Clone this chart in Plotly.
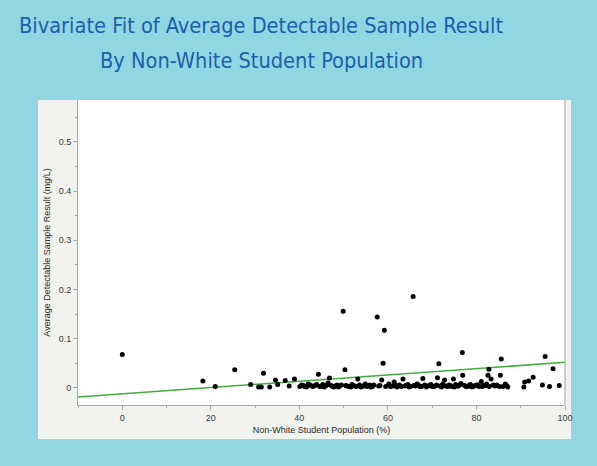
import plotly.graph_objects as go

# ---- data ----
pop_pct = [0, 18.2, 21.0, 25.4, 29.0, 30.8, 31.4, 31.9, 33.3, 34.6, 35.1, 36.8, 37.7, 38.9,
           40.5, 41.2, 42.0, 42.8, 43.5, 44.3, 44.6, 45.3, 45.9, 46.5, 46.8, 47.2, 47.8, 48.5,
           49.1, 49.9, 50.3, 50.5, 51.2, 51.9, 52.5, 53.2, 53.6, 54.2, 54.9, 55.5, 56.2, 56.8,
           57.6, 57.9, 58.6, 58.9, 59.2, 59.5, 60.2, 61.0, 61.4, 62.0, 62.6, 63.4, 63.8, 64.5,
           65.1, 65.7, 65.9, 66.6, 67.2, 67.9, 68.3, 69.0, 69.7, 70.3, 71.0, 71.2, 71.5, 71.8,
           72.4, 72.8, 73.1, 73.8, 74.4, 74.8, 75.3, 75.9, 76.5, 76.8, 76.9, 77.3, 78.0, 78.6,
           79.3, 80.0, 80.6, 81.1, 81.6, 82.3, 82.6, 82.8, 82.9, 83.3, 83.8, 84.6, 85.2, 85.4,
           85.6, 86.5, 87.1, 90.7, 90.9, 91.8, 92.8, 94.9, 95.5, 96.5, 97.3, 98.7,
           40.1, 40.9, 41.6, 42.4, 43.1, 43.9, 45.0, 45.6, 46.2, 47.5, 48.1, 48.8, 49.5, 50.8,
           51.6, 52.2, 52.9, 53.9, 54.6, 55.2, 55.9, 56.5, 58.2, 60.6, 61.7, 62.3, 63.0, 64.1,
           64.8, 66.2, 66.9, 67.6, 68.7, 69.4, 70.0, 70.7, 72.1, 73.5, 74.1, 75.0, 75.6, 76.2,
           77.6, 78.3, 79.0, 79.6, 80.3, 81.3, 82.0, 84.2, 86.0, 86.8]
avg_result = [0.068, 0.014, 0.003, 0.037, 0.007, 0.002, 0.002, 0.030, 0.002, 0.016, 0.007, 0.015, 0.004, 0.018,
              0.006, 0.003, 0.008, 0.004, 0.005, 0.028, 0.003, 0.007, 0.004, 0.010, 0.020, 0.005, 0.002, 0.006,
              0.004, 0.156, 0.037, 0.005, 0.003, 0.007, 0.004, 0.018, 0.006, 0.003, 0.008, 0.004, 0.002, 0.006,
              0.144, 0.004, 0.016, 0.050, 0.117, 0.003, 0.008, 0.004, 0.012, 0.002, 0.006, 0.018, 0.004, 0.007,
              0.003, 0.186, 0.005, 0.008, 0.003, 0.019, 0.006, 0.004, 0.007, 0.003, 0.006, 0.021, 0.049, 0.004,
              0.008, 0.016, 0.004, 0.006, 0.003, 0.018, 0.007, 0.004, 0.009, 0.072, 0.026, 0.005, 0.003, 0.007,
              0.004, 0.006, 0.003, 0.013, 0.005, 0.008, 0.026, 0.038, 0.003, 0.018, 0.006, 0.006, 0.003, 0.026,
              0.059, 0.008, 0.002, 0.002, 0.012, 0.014, 0.022, 0.006, 0.064, 0.003, 0.039, 0.005,
              0.003, 0.005, 0.002, 0.006, 0.003, 0.007, 0.004, 0.002, 0.006, 0.003, 0.004, 0.002, 0.006, 0.004,
              0.002, 0.005, 0.003, 0.002, 0.005, 0.003, 0.006, 0.003, 0.005, 0.003, 0.006, 0.004, 0.003, 0.005,
              0.002, 0.004, 0.006, 0.003, 0.002, 0.005, 0.003, 0.004, 0.002, 0.003, 0.005, 0.002, 0.004, 0.006,
              0.003, 0.005, 0.002, 0.004, 0.006, 0.003, 0.005, 0.004, 0.003, 0.005]

fit_intercept = -0.0119
fit_slope = 0.000641
fit_x = [-10, 100]

x_ticks = [0, 20, 40, 60, 80, 100]
x_ticktext = ["0", "20", "40", "60", "80", "100"]
y_ticks = [0, 0.1, 0.2, 0.3, 0.4, 0.5]
y_ticktext = ["0", "0.1", "0.2", "0.3", "0.4", "0.5"]

title_line1 = "Bivariate Fit of Average Detectable Sample Result"
title_line2 = "By Non-White Student Population"
x_title = "Non-White Student Population (%)"
y_title = "Average Detectable Sample Result (mg/L)"

# ---- figure ----
W, H = 597, 466
L, R, T, B = 78, 565, 100, 405

def px_x(p):
    return (p - L) / (R - L)

def px_y(p):
    return (B - p) / (B - T)

fit_y = [fit_intercept + fit_slope * v for v in fit_x]

fig = go.Figure()
fig.add_trace(go.Scatter(
    x=fit_x, y=fit_y, mode="lines",
    line=dict(color="#3fae3f", width=1.6), hoverinfo="skip", showlegend=False))
fig.add_trace(go.Scatter(
    x=pop_pct, y=avg_result, mode="markers",
    marker=dict(color="black", size=5, line=dict(width=0)), showlegend=False))

bg_blue = "#93d6e3"
panel = "#f2f2ee"
axis_col = "#a8a8a8"
tick_font = dict(family="Liberation Sans, Arial, sans-serif", size=9, color="#3a3a3a")
title_font = dict(family="Liberation Sans Narrow, DejaVu Sans Condensed, Arial Narrow, sans-serif",
                  size=21.6, color="#1a5fab")

fig.update_layout(
    width=W, height=H,
    margin=dict(l=L, r=W - R, t=T, b=H - B),
    paper_bgcolor=bg_blue,
    plot_bgcolor="white",
    shapes=[
        dict(type="rect", xref="paper", yref="paper", layer="below",
             x0=px_x(38), x1=px_x(571), y0=px_y(439), y1=px_y(100),
             fillcolor=panel, line=dict(width=0)),
        dict(type="rect", xref="paper", yref="paper", layer="below",
             x0=0, x1=1, y0=0, y1=1, fillcolor="white", line=dict(width=0)),
        dict(type="line", xref="paper", yref="paper",
             x0=1, x1=1, y0=0, y1=1, line=dict(color="#b0b0b0", width=1.2)),
    ],
    xaxis=dict(
        range=[-10, 100], tickvals=x_ticks, ticktext=x_ticktext,
        showgrid=False, zeroline=False, showline=True, linecolor=axis_col, linewidth=1,
        ticks="outside", ticklen=4, tickcolor=axis_col, tickfont=tick_font,
        minor=dict(dtick=10, tick0=0, ticks="outside", ticklen=2, tickcolor=axis_col, showgrid=False),
        title=dict(text=x_title, font=dict(family="Liberation Sans, Arial, sans-serif", size=9, color="#2a2a2a"),
                   standoff=4),
    ),
    yaxis=dict(
        range=[-0.0346, 0.585], tickvals=y_ticks, ticktext=y_ticktext,
        showgrid=False, zeroline=False, showline=True, linecolor=axis_col, linewidth=1,
        ticks="outside", ticklen=4, tickcolor=axis_col, tickfont=tick_font,
        minor=dict(dtick=0.05, tick0=0, ticks="outside", ticklen=2, tickcolor=axis_col, showgrid=False),
        title=dict(text=y_title, font=dict(family="Liberation Sans, Arial, sans-serif", size=9, color="#2a2a2a"),
                   standoff=6),
    ),
    annotations=[
        dict(text=title_line1, xref="paper", yref="paper", x=px_x(261), y=px_y(26),
             xanchor="center", yanchor="middle", showarrow=False, font=title_font),
        dict(text=title_line2, xref="paper", yref="paper", x=px_x(261), y=px_y(60),
             xanchor="center", yanchor="middle", showarrow=False, font=title_font),
    ],
)

fig.write_html("out.html", config={"displayModeBar": False},
               post_script="document.body.style.margin='0';")
